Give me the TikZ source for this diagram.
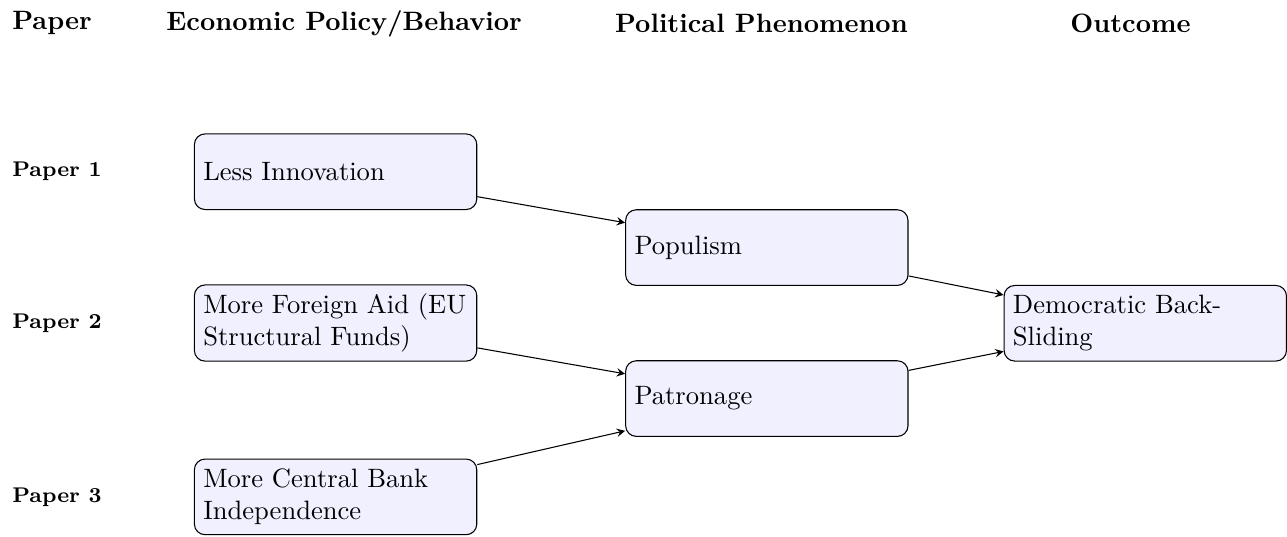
\documentclass[tikz,border=0pt]{standalone}
\usetikzlibrary{arrows.meta}
\begin{document}
\begin{tikzpicture}[
  box/.style={draw, rounded corners, fill=blue!6, text width=3.5cm, align=left, minimum height=1cm},
  head/.style={font=\bfseries},
  paperlbl/.style={font=\footnotesize\bfseries, anchor=west},
  link/.style={-stealth}
]
\useasboundingbox (0,0) rectangle (17.02,-7.09);
% headers
\node[head, anchor=west] (hpaper) at (0.04,-0.31) {Paper};
\node[head] (hecon) at (4.55,-0.31) {Economic Policy/Behavior};
\node[head] (hpol) at (10.07,-0.31) {Political Phenomenon};
\node[head] (hout) at (14.95,-0.31) {Outcome};
% paper labels
\node[paperlbl] (p1) at (0.04,-2.271) {Paper 1};
\node[paperlbl] (p2) at (0.04,-4.272) {Paper 2};
\node[paperlbl] (p3) at (0.04,-6.571) {Paper 3};
% boxes
\node[box] (innov) at (4.438,-2.271) {Less Innovation};
\node[box] (aid) at (4.438,-4.272) {More Foreign Aid (EU Structural Funds)};
\node[box] (cbi) at (4.438,-6.571) {More Central Bank Independence};
\node[box] (pop) at (10.141,-3.274) {Populism};
\node[box] (pat) at (10.141,-5.271) {Patronage};
\node[box] (dem) at (15.146,-4.275) {Democratic Back-Sliding};
% links
\draw[link] (innov) -- (pop);
\draw[link] (aid) -- (pat);
\draw[link] (cbi) -- (pat);
\draw[link] (pop) -- (dem);
\draw[link] (pat) -- (dem);
\end{tikzpicture}
\end{document}
